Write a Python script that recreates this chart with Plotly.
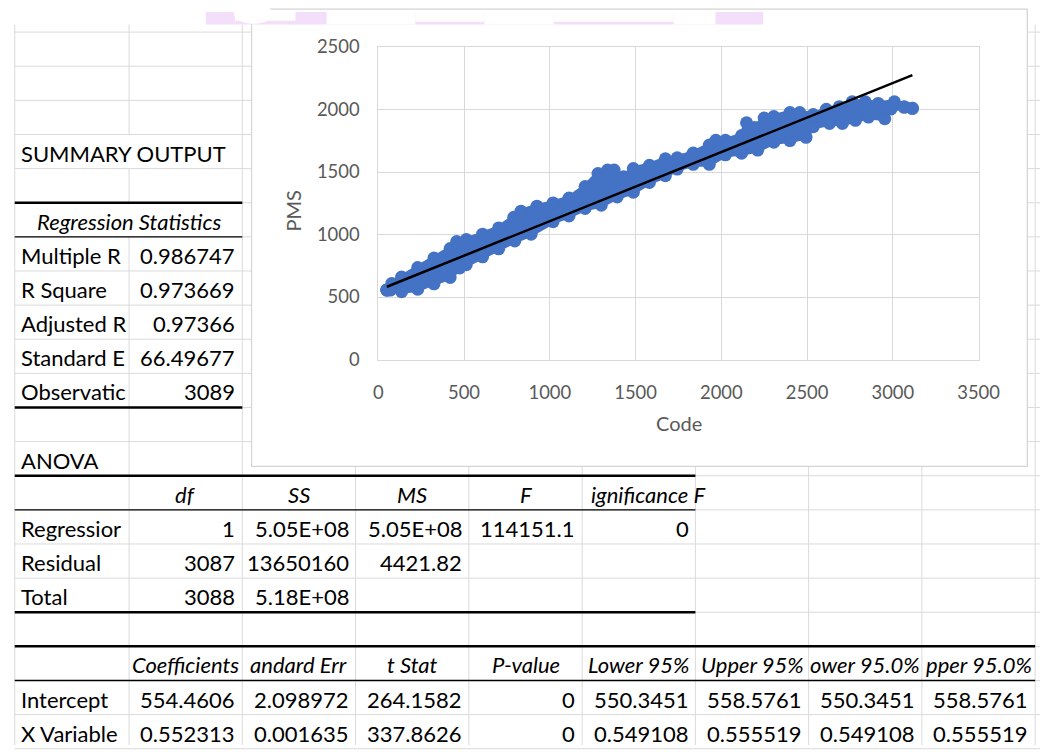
import plotly.graph_objects as go

W, H = 1062, 755

# ---------------- data ----------------
# upper / lower envelope of the PMS-vs-Code scatter cloud (marker centres)
code_upper = [50, 79, 136, 230, 325, 419, 457, 513, 608, 702, 790, 832, 925, 1019, 1112, 1206, 1281,
              1337, 1375, 1431, 1487, 1581, 1674, 1743, 1836, 1930, 1968, 2024, 2118, 2147, 2194,
              2250, 2306, 2400, 2457, 2536, 2612, 2688, 2763, 2839, 2915, 3009, 3066, 3114]
pms_upper = [557, 609, 660, 736, 812, 888, 944, 960, 1003, 1053, 1138, 1187, 1227, 1253, 1292, 1384, 1488,
             1515, 1515, 1462, 1528, 1554, 1606, 1614, 1652, 1716, 1754, 1754, 1792, 1894, 1855,
             1932, 1944, 1975, 1975, 1960, 2001, 2022, 2061, 2061, 2048, 2061, 2022, 2009]
code_lower = [50, 70, 136, 230, 325, 419, 475, 513, 608, 702, 796, 891, 1019, 1112, 1206, 1300, 1393,
              1487, 1581, 1674, 1743, 1836, 1930, 2024, 2118, 2212, 2306, 2400, 2494, 2536, 2631,
              2706, 2782, 2858, 2953, 2990, 3066, 3114]
pms_lower = [556, 556, 543, 563, 606, 657, 733, 759, 822, 886, 949, 1003, 1103, 1148, 1208, 1234, 1300,
             1339, 1417, 1470, 1523, 1561, 1561, 1637, 1650, 1675, 1738, 1751, 1777, 1862, 1888,
             1888, 1913, 1939, 1926, 2004, 2017, 2009]

x_ticks = [0, 500, 1000, 1500, 2000, 2500, 3000, 3500]
y_ticks = [0, 500, 1000, 1500, 2000, 2500]

summary_title = "SUMMARY OUTPUT"
reg_header = "Regression Statistics"
reg_stat_labels = ["Multiple R", "R Square", "Adjusted R", "Standard E", "Observatic"]
reg_stat_values = ["0.986747", "0.973669", "0.97366", "66.49677", "3089"]

anova_title = "ANOVA"
anova_headers = ["df", "SS", "MS", "F"]
anova_sig_header = "ignificance F"
anova_rows = ["Regressior", "Residual", "Total"]
anova_df = ["1", "3087", "3088"]
anova_ss = ["5.05E+08", "13650160", "5.18E+08"]
anova_ms = ["5.05E+08", "4421.82", ""]
anova_f = ["114151.1", "", ""]
anova_sig = ["0", "", ""]

coef_headers = ["Coefficients", "andard Err", "t Stat", "P-value", "Lower 95%", "Upper 95%", "ower 95.0%", "pper 95.0%"]
coef_rows = ["Intercept", "X Variable"]
coef_values = [
    ["554.4606", "2.098972", "264.1582", "0", "550.3451", "558.5761", "550.3451", "558.5761"],
    ["0.552313", "0.001635", "337.8626", "0", "0.549108", "0.555519", "0.549108", "0.555519"],
]

# ---------------- geometry helpers ----------------
def px(x):
    return x / W

def py(y):
    return 1 - y / H

col_x = [10, 127.3, 243.5, 359.7, 476.0, 592.2, 708.4, 824.6, 940.8, 1057.0]
row0, row_h = 20.7, 35.15

def rb(k):  # k-th horizontal boundary
    return row0 + row_h * k

def text_y(r):  # text centre of row r (between boundary r and r+1)
    return rb(r + 1) - 16

FONT = "Lato"
FS = 22
annotations = []

def cell(text, x, y, anchor="left", italic=False, size=FS, color="#000000", angle=0):
    if not text:
        return
    t = f"<i>{text}</i>" if italic else text
    annotations.append(dict(text=t, x=px(x), y=py(y), xref="paper", yref="paper",
                            xanchor=anchor, yanchor="middle", showarrow=False, textangle=angle,
                            font=dict(family=FONT, size=size, color=color)))

def left(c, r, text, italic=False):
    cell(text, col_x[c] + 4, text_y(r), "left", italic)

def right(c, r, text):
    cell(text, col_x[c + 1] - 5, text_y(r), "right")

def centre(c, r, text, italic=True):
    cell(text, (col_x[c] + col_x[c + 1]) / 2, text_y(r), "center", italic)

shapes = []
GRID = "#dadada"

def hline(y, x0, x1, color=GRID, w=1):
    shapes.append(dict(type="line", xref="paper", yref="paper", x0=px(x0), x1=px(x1),
                       y0=py(y), y1=py(y), line=dict(color=color, width=w), layer="below"))

def vline(x, y0, y1, color=GRID, w=1):
    shapes.append(dict(type="line", xref="paper", yref="paper", x0=px(x), x1=px(x),
                       y0=py(y0), y1=py(y1), line=dict(color=color, width=w), layer="below"))

def rect(x0, y0, x1, y1, fill, line=None, w=0):
    shapes.append(dict(type="rect", xref="paper", yref="paper", x0=px(x0), x1=px(x1),
                       y0=py(y1), y1=py(y0), fillcolor=fill,
                       line=dict(color=line or fill, width=w), layer="below"))

def ellipse(cx, cy, rx, ry, fill):
    shapes.append(dict(type="circle", xref="paper", yref="paper", x0=px(cx - rx), x1=px(cx + rx),
                       y0=py(cy + ry), y1=py(cy - ry), fillcolor=fill, line=dict(width=0), layer="below"))

CHART_L, CHART_R, CHART_B = 253, 1049, 468
TOP = 13

# sheet gridlines
for k in range(0, 22):
    y = rb(k)
    if y < CHART_B:
        hline(y, col_x[0], CHART_L)
        hline(y, CHART_R, W)
    else:
        hline(y, col_x[0], W)

vline(col_x[0], TOP, H)
vline(col_x[1], TOP, rb(3))
vline(col_x[1], rb(4), rb(5))
vline(col_x[1], rb(6), H)
vline(col_x[2], TOP, H)
for c in range(3, 9):
    vline(col_x[c], CHART_B, H)
vline(col_x[9], TOP, H)

# table borders
BLACK = "#000000"
hline(rb(5), col_x[0], col_x[2], BLACK, 2.5)
hline(rb(6), col_x[0], col_x[2], BLACK, 1.3)
hline(rb(11), col_x[0], col_x[2], BLACK, 2.5)
hline(rb(13), col_x[0], col_x[6], BLACK, 2.5)
hline(rb(14), col_x[0], col_x[6], BLACK, 1.3)
hline(rb(17), col_x[0], col_x[6], BLACK, 2.5)
hline(rb(18), col_x[0], col_x[9], BLACK, 2.5)
hline(rb(19), col_x[0], col_x[9], BLACK, 1.3)

# chart object
rect(CHART_L, -3, CHART_R, CHART_B, "#ffffff", "#d4d4d4", 1.2)

# pink strip at the very top
PINK = "#f4dffa"
rect(206, 0, 778, TOP, PINK)
rect(236, 0, 298, 9, "#ffffff")
rect(330, 0, 421, TOP, "#ffffff")
rect(421, 0, 492, 10, "#ffffff")
rect(492, 0, 563, TOP, "#ffffff")
rect(563, 0, 686, 10, "#ffffff")
rect(686, 0, 729, TOP, "#ffffff")
ellipse(255, 2, 20, 10, "#ffffff")

# ---------------- sheet text ----------------
left(0, 3, summary_title)
cell(f"<i>{reg_header}</i>", (col_x[0] + col_x[2]) / 2, text_y(5), "center")
for i, (lab, val) in enumerate(zip(reg_stat_labels, reg_stat_values)):
    left(0, 6 + i, lab)
    right(1, 6 + i, val)

left(0, 12, anova_title)
for i, h in enumerate(anova_headers):
    centre(1 + i, 13, h)
cell(f"<i>{anova_sig_header}</i>", 720, text_y(13), "right")
for i, lab in enumerate(anova_rows):
    r = 14 + i
    left(0, r, lab)
    right(1, r, anova_df[i])
    right(2, r, anova_ss[i])
    right(3, r, anova_ms[i])
    right(4, r, anova_f[i])
    right(5, r, anova_sig[i])

for i, h in enumerate(coef_headers):
    centre(1 + i, 18, h)
for j, lab in enumerate(coef_rows):
    r = 19 + j
    left(0, r, lab)
    for i, v in enumerate(coef_values[j]):
        right(1 + i, r, v)

AX = "#595959"
cell("PMS", 296, 205, "center", size=20, color=AX, angle=-90)
cell("Code", 692, 423, "center", size=20, color=AX)

# ---------------- chart traces ----------------
cloud_x = code_upper + code_lower[::-1] + code_upper[:1]
cloud_y = pms_upper + pms_lower[::-1] + pms_upper[:1]
BLUE = "#4472c4"

intercept = float(coef_values[0][0])
slope = float(coef_values[1][0])
x_min = min(code_upper + code_lower)
x_max = max(code_upper + code_lower)
trend_x = [x_min, x_max]
trend_y = [intercept + slope * v for v in trend_x]

fig = go.Figure()
fig.add_trace(go.Scatter(x=cloud_x, y=cloud_y, mode="lines+markers", fill="toself",
                         fillcolor=BLUE, line=dict(width=5, color=BLUE),
                         marker=dict(size=13, color=BLUE), hoverinfo="skip", showlegend=False))
fig.add_trace(go.Scatter(x=trend_x, y=trend_y, mode="lines",
                         line=dict(color="#000000", width=2.5), showlegend=False))

PL, PR, PT, PB = 383, 999, 36, 358
fig.update_layout(
    width=W, height=H, autosize=False,
    margin=dict(l=0, r=0, t=0, b=0),
    paper_bgcolor="#ffffff", plot_bgcolor="rgba(0,0,0,0)",
    shapes=shapes, annotations=annotations, showlegend=False,
    xaxis=dict(domain=[px(PL), px(PR)], range=[0, 3500], tickvals=x_ticks,
               ticktext=[str(v) for v in x_ticks], showgrid=True, gridcolor="#d9d9d9", gridwidth=1,
               zeroline=False, showline=True, linecolor="#d9d9d9", linewidth=1, mirror=True,
               ticks="outside", ticklen=16, tickcolor="rgba(0,0,0,0)",
               tickfont=dict(family=FONT, size=18.4, color=AX), fixedrange=True),
    yaxis=dict(domain=[py(PB), py(PT)], range=[0, 2500], tickvals=y_ticks,
               ticktext=[str(v) for v in y_ticks], showgrid=True, gridcolor="#d9d9d9", gridwidth=1,
               zeroline=False, showline=True, linecolor="#d9d9d9", linewidth=1, mirror=True,
               ticks="outside", ticklen=14, tickcolor="rgba(0,0,0,0)",
               tickfont=dict(family=FONT, size=18.4, color=AX), fixedrange=True),
)

fig.write_html("out.html", config={"displayModeBar": False},
               post_script="var d=document.getElementById('{plot_id}');"
                           "d.style.position='fixed';d.style.left='0px';d.style.top='0px';"
                           "document.body.style.margin='0';document.body.style.overflow='hidden';"
                           "document.documentElement.style.overflow='hidden';")
